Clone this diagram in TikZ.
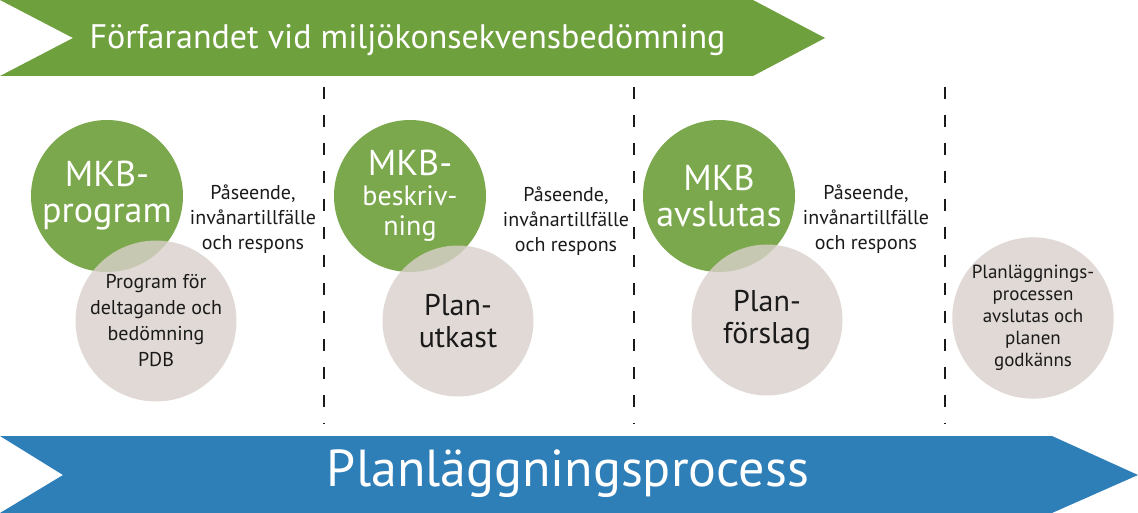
\documentclass[tikz,border=0pt]{standalone}
\usepackage{fontspec}
\setmainfont{PT Sans}
\definecolor{gban}{HTML}{6FA03E}
\definecolor{gcirc}{HTML}{7BA84C}
\definecolor{beige}{HTML}{D9D0CB}
\definecolor{bban}{HTML}{2E7EB8}
\definecolor{txt}{HTML}{1A1A1A}
\begin{document}
\begin{tikzpicture}[x=1pt,y=-1pt,
  gc/.style={circle,fill=gcirc,minimum size=152pt,inner sep=0pt,text=white,align=center,font=\fontsize{36}{36}\selectfont},
  bc/.style={circle,fill=beige,fill opacity=0.8,text opacity=1,minimum size=151pt,inner sep=0pt,text=txt,align=center,font=\fontsize{30}{32}\selectfont},
  side/.style={text=txt,align=center,font=\fontsize{20}{25}\selectfont},
  sep/.style={draw=txt,line width=1.2pt,dash pattern=on 12pt off 16pt}]
\useasboundingbox (0,0) rectangle (1138,513);
\fill[gban] (0,0) -- (753,0) -- (825,38) -- (753,76) -- (0,76) -- (73,38) -- cycle;
\node[text=white,font=\fontsize{34}{34}\selectfont,anchor=west] (t1) at (86,40) {Förfarandet vid miljökonsekvensbedömning};
\fill[bban] (0,436) -- (1052,436) -- (1138,475) -- (1052,513) -- (0,513) -- (63,475) -- cycle;
\node[text=white,font=\fontsize{52}{52}\selectfont] (t2) at (568,474) {Planläggningsprocess};
\foreach \x/\n in {324/d1,634/d2,945/d3}{\coordinate (\n a) at (\x,87); \coordinate (\n b) at (\x,424); \draw[sep] (\n a) -- (\n b);}
\node[gc] (g1) at (107,196) {MKB-\\program};
\node[gc,font=\fontsize{28}{30}\selectfont] (g2) at (410,196) {\fontsize{36}{36}\selectfont MKB-\\beskriv-\\ning};
\node[gc] (g3) at (719,196) {MKB\\avslutas};
\node[bc,font=\fontsize{20}{26}\selectfont] (b1) at (156,321) {Program för\\deltagande och\\bedömning\\PDB};
\node[bc] (b2) at (458,321) {Plan-\\utkast};
\node[bc] (b3) at (767,320) {Plan-\\förslag};
\node[bc,font=\fontsize{19}{22}\selectfont,minimum size=148pt] (b4) at (1033,318) {Planläggnings-\\processen\\avslutas och\\planen\\godkänns};
\node[side] (s1) at (253,219) {Påseende,\\invånartillfälle\\och respons};
\node[side] (s2) at (566,221) {Påseende,\\invånartillfälle\\och respons};
\node[side] (s3) at (866,219) {Påseende,\\invånartillfälle\\och respons};
\end{tikzpicture}
\end{document}
